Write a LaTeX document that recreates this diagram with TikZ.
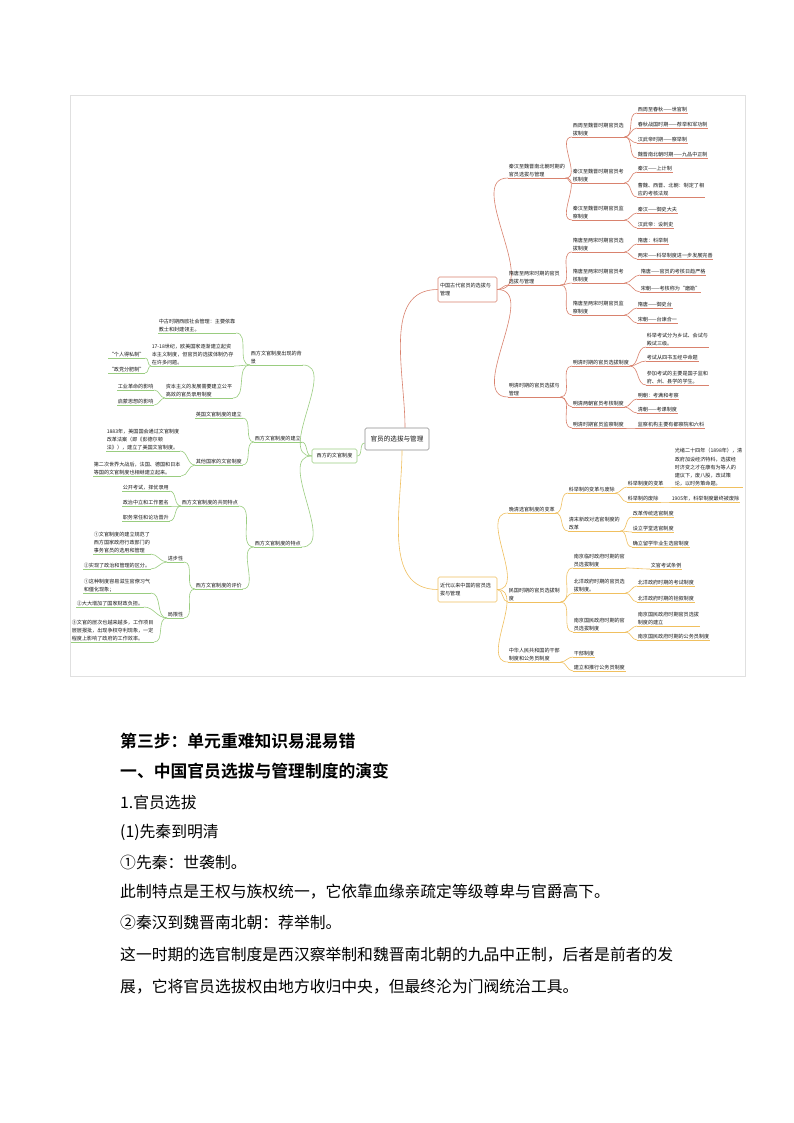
\documentclass[tikz,border=0pt]{standalone}
\usepackage{fontspec}
\setmainfont{Noto Sans CJK SC}
\newfontfamily\boldcjk{Noto Sans CJK SC Bold}
\definecolor{rc}{HTML}{D9826E}
\definecolor{gc}{HTML}{F0C060}
\definecolor{vc}{HTML}{9ACD80}
\colorlet{cc}{rc}
\tikzset{
  mm/.style={font=\fontsize{5.1}{8.2}\selectfont, inner sep=0.6pt, align=left, text=black!90},
  cl/.style={draw=cc, line width=0.6pt},
  bx/.style={draw=cc, line width=0.6pt, rounded corners=1.5pt, font=\fontsize{5.1}{8.2}\selectfont, align=left, inner sep=1.5pt, text=black!90},
  body/.style={font=\fontsize{15.8}{20}\selectfont, anchor=west, inner sep=0pt},
  head/.style={font=\boldcjk\fontsize{16.8}{20}\selectfont, anchor=west, inner sep=0pt}
}
\newcommand\R[4]{\node[mm,anchor=south west] (#1) at (#3) {#4};
  \draw[cl] (#1.south west)--(#1.south east);
  \draw[cl] (#2) to[out=0,in=180] (#1.south west);}
\newcommand\Lf[4]{\node[mm,anchor=south west] (#1) at (#3) {#4};
  \draw[cl] (#1.south west)--(#1.south east);
  \draw[cl] (#2) to[out=180,in=0] (#1.south east);}
\begin{document}
\begin{tikzpicture}[x=1pt,y=-1pt]
\useasboundingbox[fill=white] (0,0) rectangle (794,1123);
\draw[black!12, line width=0.5pt] (70,95) rectangle (745,676);
% root
\node[bx, draw=black!45, font=\fontsize{6.6}{8}\selectfont, minimum width=64, minimum height=22, align=center] (root) at (397,439) {官员的选拔与管理};
% ===== red =====
\begin{scope}
\colorlet{cc}{rc}
\node[bx, minimum width=59, minimum height=25, text width=55] (cg) at (467.5,289.5) {中国古代官员的选拔与\\管理};
\draw[cl] ([xshift=8]root.north) to[out=90,in=180] (cg.west);
\R{a1}{cg.east}{508,178}{秦汉至魏晋南北朝时期的\\官员选拔与管理}
\R{a2}{cg.east}{508,285}{隋唐至两宋时期的官员\\选拔与管理}
\R{a3}{cg.east}{508,397}{明清时期的官员选拔与\\管理}
\R{b1}{a1.south east}{572,137}{西周至魏晋时期官员选\\拔制度}
\R{b2}{a1.south east}{572,183}{秦汉至魏晋时期官员考\\核制度}
\R{b3}{a1.south east}{572,220}{秦汉至魏晋时期官员监\\察制度}
\R{b4}{a2.south east}{572,252}{隋唐至两宋时期官员选\\拔制度}
\R{b5}{a2.south east}{572,283}{隋唐至两宋时期官员考\\核制度}
\R{b6}{a2.south east}{572,315}{隋唐至两宋时期官员监\\察制度}
\R{b7}{a3.south east}{572,366}{明清时期的官员选拔制度}
\R{b8}{a3.south east}{572,407}{明清两朝官员考核制度}
\R{b9}{a3.south east}{572,428}{明清时期官员监察制度}
\R{c1}{b1.south east}{637,113}{西周至春秋——世官制}
\R{c2}{b1.south east}{637,128}{春秋战国时期——荐举和军功制}
\R{c3}{b1.south east}{637,143}{汉武帝时期——察举制}
\R{c4}{b1.south east}{637,158}{魏晋南北朝时期——九品中正制}
\R{c5}{b2.south east}{637,172}{秦汉——上计制}
\R{c6}{b2.south east}{637,197}{曹魏、西晋、北朝：制定了相\\应的考核法规}
\R{c7}{b3.south east}{637,213}{秦汉——御史大夫}
\R{c8}{b3.south east}{637,228}{汉武帝：设刺史}
\R{c9}{b4.south east}{637,244}{隋唐：科举制}
\R{c10}{b4.south east}{637,259}{两宋——科举制度进一步发展完善}
\R{c11}{b5.south east}{640,275}{隋唐——官员的考核日趋严格}
\R{c12}{b5.south east}{640,292}{宋朝——考核称为“磨勘”}
\R{c13}{b6.south east}{637,308}{隋唐——御史台}
\R{c14}{b6.south east}{637,323}{宋朝——台谏合一}
\R{c15}{b7.south east}{646,347}{科举考试分为乡试、会试与\\殿试三级。}
\R{c16}{b7.south east}{646,361}{考试从四书五经中命题}
\R{c17}{b7.south east}{646,385}{参加考试的主要是国子监和\\府、州、县学的学生。}
\R{c18}{b8.south east}{637,399}{明朝：考满和考察}
\R{c19}{b8.south east}{637,413}{清朝——考课制度}
\R{c20}{b9.south east}{637,428}{监察机构主要有都察院和六科}
\end{scope}
% ===== gold =====
\begin{scope}
\colorlet{cc}{gc}
\node[bx, minimum width=59, minimum height=25, text width=55] (jd) at (467.5,589.5) {近代以来中国的官员选\\拔与管理};
\draw[cl] ([xshift=5]root.south) to[out=-90,in=180] (jd.west);
\R{d1}{jd.east}{508,513}{晚清选官制度的变革}
\R{d2}{jd.east}{508,602}{民国时期的官员选拔制\\度}
\R{d3}{jd.east}{508,662}{中华人民共和国的干部\\制度和公务员制度}
\R{e1}{d1.south east}{568,493}{科举制的变革与废除}
\R{e2}{d1.south east}{568,531}{清末新政对选官制度的\\改革}
\R{e3}{d2.south east}{573,568}{南京临时政府时期的官\\员选拔制度}
\R{e4}{d2.south east}{573,593}{北洋政府时期的官员选\\拔制度。}
\R{e5}{d2.south east}{573,632}{南京国民政府时期的官\\员选拔制度}
\R{e6}{d3.south east}{573,657}{干部制度}
\R{e7}{d3.south east}{573,671}{建立和推行公务员制度}
\R{f1}{e1.south east}{627,487}{科举制度的变革}
\R{f2}{e1.south east}{627,502}{科举制的废除}
\R{g1}{f1.south east}{674,487}{光绪二十四年（1898年），清\\政府加设经济特科，选拔经\\时济变之才在康有为等人的\\建议下，废八股，改试策\\论，以时务策命题。}
\R{g2}{f2.south east}{671,502}{1905年，科举制度最终被废除}
\R{f3}{e2.south east}{632,517}{改革传统选官制度}
\R{f4}{e2.south east}{632,532}{设立学堂选官制度}
\R{f5}{e2.south east}{632,547}{确立留学毕业生选官制度}
\R{f6}{e3.south east}{650,569}{文官考试条例}
\R{f7}{e4.south east}{637,586}{北洋政府时期的考试制度}
\R{f8}{e4.south east}{637,602}{北洋政府时期的铨叙制度}
\R{f9}{e5.south east}{637,626}{南京国民政府时期官员选拔\\制度的建立}
\R{f10}{e5.south east}{637,640}{南京国民政府时期的公务员制度}
\end{scope}
% ===== green =====
\begin{scope}
\colorlet{cc}{vc}
\node[bx, minimum width=45, minimum height=14, align=center] (xf) at (334.5,456) {西方的文官制度};
\draw[cl] ([yshift=-4]root.west) to[out=180,in=0] (xf.east);
\Lf{h1}{xf.west}{250,365}{西方文官制度出现的背\\景}
\Lf{h2}{xf.west}{254,442}{西方文官制度的建立}
\Lf{h3}{xf.west}{254,547}{西方文官制度的特点}
\Lf{i1}{h1.south west}{158,333}{中古时期西欧社会管理：主要依靠\\教士和封建领主。}
\Lf{i2}{h1.south west}{151,366}{17-18世纪，欧美国家逐渐建立起资\\本主义制度，但官员的选拔体制仍存\\在许多问题。}
\Lf{i3}{h1.south west}{165,398}{资本主义的发展需要建立公平\\高效的官员录用制度}
\Lf{i4}{i2.south west}{108,358}{“个人得私制”}
\Lf{i5}{i2.south west}{108,373}{“政党分肥制”}
\Lf{i6}{i3.south west}{117,390}{工业革命的影响}
\Lf{i7}{i3.south west}{117,405}{启蒙思想的影响}
\Lf{j1}{h2.south west}{195,418}{英国文官制度的建立}
\Lf{j2}{h2.south west}{195,465}{其他国家的文官制度}
\Lf{j3}{j2.south west}{106,451}{1883年，美国国会通过文官制度\\改革法案（即《彭德尔顿\\法》），建立了美国文官制度。}
\Lf{j4}{j2.south west}{93,476}{第二次世界大战后，法国、德国和日本\\等国的文官制度也相继建立起来。}
\Lf{k1}{h3.south west}{181,506}{西方文官制度的共同特点}
\Lf{k2}{h3.south west}{195,589}{西方文官制度的评价}
\Lf{k3}{k1.south west}{122,491}{公开考试，择优录用}
\Lf{k4}{k1.south west}{122,506}{政治中立和工作匿名}
\Lf{k5}{k1.south west}{122,521}{职务常任和论功晋升}
\Lf{l1}{k2.south west}{167,562}{进步性}
\Lf{l2}{k2.south west}{167,618}{局限性}
\Lf{m1}{l1.south west}{93,554}{①文官制度的建立规范了\\西方国家政府行政部门的\\事务官员的选用和管理}
\Lf{m2}{l1.south west}{83,569}{②实现了政治和管理的区分。}
\Lf{m3}{l2.south west}{83,593}{①这种制度容易滋生官僚习气\\和僵化现象；}
\Lf{m4}{l2.south west}{76,607}{②大大增加了国家财政负担。}
\Lf{m5}{l2.south west}{71,642}{③文官的层次也越来越多，工作项目\\层层报批，出现争权夺利现象，一定\\程度上影响了政府的工作效率。}
\end{scope}
% ===== text below =====
\node[head] (t1) at (120,741) {第三步：单元重难知识易混易错};
\node[head] (t2) at (120,771) {一、中国官员选拔与管理制度的演变};
\node[body] (t3) at (120,802) {1.官员选拔};
\node[body] (t4) at (120,832) {(1)先秦到明清};
\node[body] (t5) at (120,862) {①先秦：世袭制。};
\node[body] (t6) at (120,892) {此制特点是王权与族权统一，它依靠血缘亲疏定等级尊卑与官爵高下。};
\node[body] (t7) at (120,922) {②秦汉到魏晋南北朝：荐举制。};
\node[body] (t8) at (120,955) {这一时期的选官制度是西汉察举制和魏晋南北朝的九品中正制，后者是前者的发};
\node[body] (t9) at (120,987) {展，它将官员选拔权由地方收归中央，但最终沦为门阀统治工具。};
\end{tikzpicture}
\end{document}
